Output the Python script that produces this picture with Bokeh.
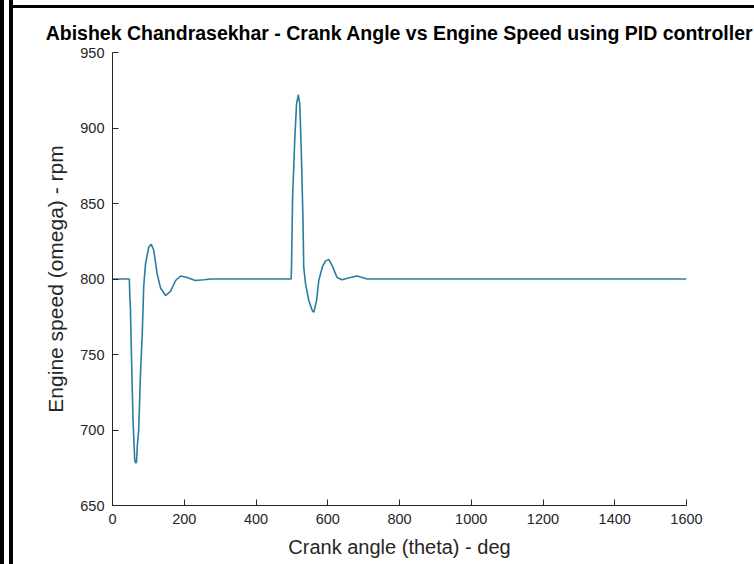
from bokeh.plotting import figure
from bokeh.layouts import row, column
from bokeh.models import Spacer, FixedTicker, Range1d, Title
from bokeh.embed import file_html
from bokeh.resources import INLINE

# Crank angle (deg) and engine speed (rpm)
theta = [0, 47, 48, 50, 53, 57, 60, 62, 65, 67, 69, 73, 78, 83, 87, 92, 101, 108,
         115, 124, 134, 148, 162, 176, 190, 208, 231, 255, 273,
         498, 499, 502, 508, 513, 518, 522, 526, 531, 533, 538, 547, 557, 561,
         569, 575, 585, 594, 603, 612, 626, 640, 663, 682, 710, 1600]
omega = [800, 800, 790, 780, 748, 708, 691, 680, 678, 679, 689, 700, 737, 764, 795, 810, 821, 823,
         819, 804, 794, 789, 792, 799, 802, 801, 799, 799.5, 800,
         800, 808, 854, 892, 916, 922, 916, 887, 839, 808, 797, 786, 779, 778,
         786, 799, 808, 812, 813, 809, 801, 799.5, 801, 802, 800, 800]

x_ticks = [0, 200, 400, 600, 800, 1000, 1200, 1400, 1600]
y_ticks = [650, 700, 750, 800, 850, 900, 950]

title_text = "Abishek Chandrasekhar - Crank Angle vs Engine Speed using PID controller"
x_label = "Crank angle (theta) - deg"
y_label = "Engine speed (omega) - rpm"

FONT = "Liberation Sans"
AX = "#262626"

p = figure(width=741, height=556, output_backend="svg", toolbar_location=None,
           x_range=Range1d(0, 1600), y_range=Range1d(650, 950),
           min_border_left=99, min_border_right=68, min_border_top=44, min_border_bottom=59,
           background_fill_color="white", border_fill_color="white")
p.title = Title(text=title_text, align="center", text_font=FONT, text_font_size="19.5px",
                text_font_style="bold", text_color="#000000", standoff=18, offset=-9)
p.outline_line_color = None
p.xgrid.visible = False
p.ygrid.visible = False

p.line(theta, omega, line_color="#2a7d9c", line_width=1.6)

for ax, ticks in ((p.xaxis[0], x_ticks), (p.yaxis[0], y_ticks)):
    ax.ticker = FixedTicker(ticks=ticks)
    ax.major_tick_in = 6
    ax.major_tick_out = 0
    ax.minor_tick_line_color = None
    ax.axis_line_color = AX
    ax.major_tick_line_color = AX
    ax.major_label_text_color = AX
    ax.major_label_text_font = FONT
    ax.major_label_text_font_size = "14.5px"
    ax.axis_label_text_font = FONT
    ax.axis_label_text_font_style = "normal"
    ax.axis_label_text_color = AX

p.xaxis.axis_label = x_label
p.yaxis.axis_label = y_label
p.xaxis.axis_label_text_font_size = "20px"
p.yaxis.axis_label_text_font_size = "21px"
p.xaxis.major_label_standoff = 8
p.yaxis.major_label_standoff = 8
p.xaxis.axis_label_standoff = 9
p.yaxis.axis_label_standoff = 10

def bar(w, h, color):
    return Spacer(width=w, height=h, styles={"background-color": color})

layout = row(
    bar(4, 564, "black"), bar(5, 564, "white"), bar(4, 564, "black"),
    column(bar(741, 5, "white"), bar(741, 3, "black"), p, spacing=0),
    spacing=0,
)

open("out.html", "w").write(file_html(layout, INLINE))
